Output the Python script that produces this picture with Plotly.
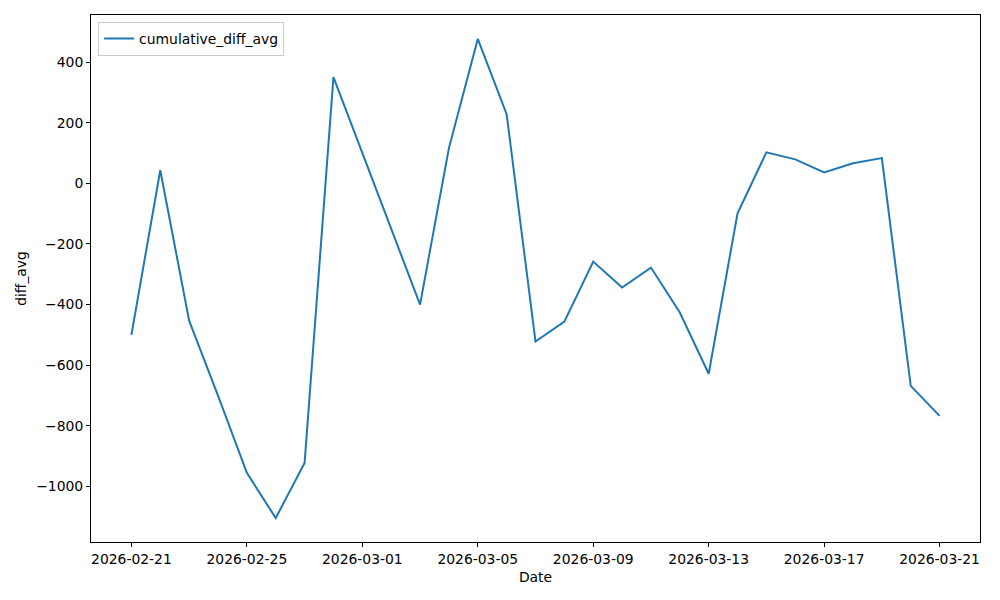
import plotly.graph_objects as go
import pandas as pd

dates = pd.date_range("2026-02-21", "2026-03-21", freq="D").strftime("%Y-%m-%d").tolist()
cumulative_diff_avg = [-500, 43, -453, -700, -955, -1104, -922, 350, 100, -150, -400,
                       116, 476, 228, -522, -456, -258, -344, -278, -426, -628,
                       -99, 102, 79, 36, 66, 83, -668, -767]
x_ticks = ["2026-02-21", "2026-02-25", "2026-03-01", "2026-03-05", "2026-03-09",
           "2026-03-13", "2026-03-17", "2026-03-21"]
y_ticks = [-1000, -800, -600, -400, -200, 0, 200, 400]

FS = 13.9

fig = go.Figure()
fig.add_trace(go.Scatter(x=dates, y=cumulative_diff_avg, mode="lines",
                         name="cumulative_diff_avg",
                         line=dict(color="#1f77b4", width=2)))

fig.update_layout(
    width=1000, height=600,
    margin=dict(l=91, r=20, t=15, b=58),
    paper_bgcolor="white", plot_bgcolor="white",
    font=dict(family="DejaVu Sans", size=FS, color="black"),
    showlegend=True,
    legend=dict(x=0.008, y=0.987, xanchor="left", yanchor="top",
                bordercolor="#cccccc", borderwidth=1, bgcolor="rgba(255,255,255,0.8)",
                font=dict(size=FS), itemwidth=30),
)
fig.update_xaxes(
    type="date",
    range=["2026-02-19 14:24", "2026-03-22 09:36"],
    tickvals=x_ticks, ticktext=x_ticks,
    tickfont=dict(size=FS),
    showgrid=False, zeroline=False,
    showline=True, linecolor="black", linewidth=1, mirror=True,
    ticks="outside", ticklen=4, tickcolor="black",
    title=dict(text="Date", standoff=6, font=dict(size=FS)),
)
fig.update_yaxes(
    range=[-1183, 555],
    tickvals=y_ticks,
    tickfont=dict(size=FS),
    showgrid=False, zeroline=False,
    showline=True, linecolor="black", linewidth=1, mirror=True,
    ticks="outside", ticklen=4, tickcolor="black",
    title=dict(text="diff_avg", standoff=6, font=dict(size=FS)),
)
fig.write_html("out.html", config={"displayModeBar": False},
               post_script="document.body.style.margin='0';")
